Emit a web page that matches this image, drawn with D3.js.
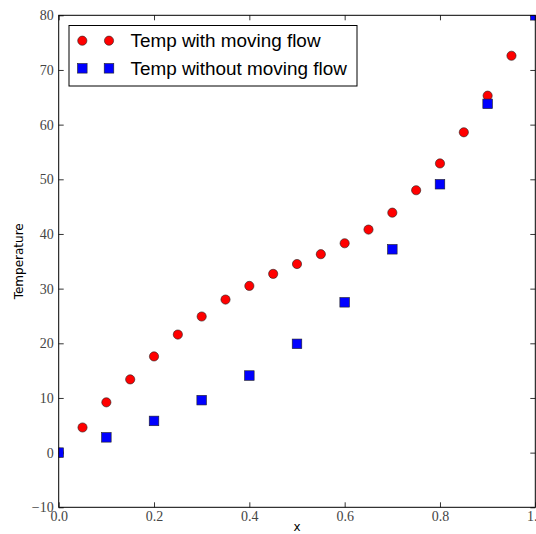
<!DOCTYPE html>
<html><head><meta charset="utf-8">
<script src="https://cdn.jsdelivr.net/npm/d3@7"></script>
<style>body{margin:0;background:#fff}</style>
</head><body>
<svg id="c" width="536" height="534"></svg>
<script>
const redX = [0, 0.05, 0.1, 0.15, 0.2, 0.25, 0.3, 0.35, 0.4, 0.45, 0.5, 0.55, 0.6, 0.65, 0.7, 0.75, 0.8, 0.85, 0.9, 0.95, 1.0];
const redY = [0, 4.6, 9.2, 13.4, 17.6, 21.6, 24.9, 28.0, 30.5, 32.7, 34.5, 36.3, 38.3, 40.8, 43.9, 48.0, 52.9, 58.6, 65.3, 72.6, 80.0];
const blueX = [0, 0.1, 0.2, 0.3, 0.4, 0.5, 0.6, 0.7, 0.8, 0.9, 1.0];
const blueY = [0, 2.8, 5.8, 9.6, 14.1, 19.9, 27.5, 37.2, 49.1, 63.8, 80.0];
const xTicks = [0, 0.2, 0.4, 0.6, 0.8, 1.0];
const xTickLabels = ["0.0", "0.2", "0.4", "0.6", "0.8", "1.0"];
const yTicks = [-10, 0, 10, 20, 30, 40, 50, 60, 70, 80];
const yTickLabels = ["\u221210", "0", "10", "20", "30", "40", "50", "60", "70", "80"];
const seriesNames = ["Temp with moving flow", "Temp without moving flow"];

const svg = d3.select("#c");
const L = 58.7, R = 535.3, T = 15.3, B = 507.3;
const x = d3.scaleLinear().domain([0, 1]).range([L, R]);
const y = d3.scaleLinear().domain([-10, 80]).range([B, T]);

svg.append("defs").append("clipPath").attr("id", "clip")
  .append("rect").attr("x", L).attr("y", T).attr("width", R - L).attr("height", B - T);

const serif = "'Liberation Serif', 'DejaVu Serif', serif";
const sans = "'DejaVu Sans', sans-serif";

const tickStyle = g => {
  g.select(".domain").remove();
  g.selectAll(".tick line").attr("stroke", "#000").attr("stroke-width", 0.8);
  g.selectAll(".tick text").attr("font-family", serif).attr("font-size", 14).attr("fill", "#444");
};
svg.append("g").attr("transform", `translate(0,${B})`)
  .call(d3.axisBottom(x).tickValues(xTicks).tickFormat((d, i) => xTickLabels[i]).tickSizeInner(-5).tickPadding(4))
  .call(tickStyle);
svg.append("g").attr("transform", `translate(0,${T})`)
  .call(d3.axisTop(x).tickValues(xTicks).tickFormat("").tickSizeInner(-5))
  .call(tickStyle);
svg.append("g").attr("transform", `translate(${L},0)`)
  .call(d3.axisLeft(y).tickValues(yTicks).tickFormat((d, i) => yTickLabels[i]).tickSizeInner(-5).tickPadding(5))
  .call(tickStyle);
svg.append("g").attr("transform", `translate(${R},0)`)
  .call(d3.axisRight(y).tickValues(yTicks).tickFormat("").tickSizeInner(-5))
  .call(tickStyle);

const plot = svg.append("g").attr("clip-path", "url(#clip)");
plot.selectAll("circle.red").data(redX).join("circle").attr("class", "red")
  .attr("cx", d => x(d)).attr("cy", (d, i) => y(redY[i])).attr("r", 4.6)
  .attr("fill", "#ff0000").attr("stroke", "#222").attr("stroke-width", 0.6);
const s = 9.6;
plot.selectAll("rect.blue").data(blueX).join("rect").attr("class", "blue")
  .attr("x", d => x(d) - s / 2).attr("y", (d, i) => y(blueY[i]) - s / 2).attr("width", s).attr("height", s)
  .attr("fill", "#0000ff").attr("stroke", "#222").attr("stroke-width", 0.6);

svg.append("rect").attr("x", L).attr("y", T).attr("width", R - L).attr("height", B - T)
  .attr("fill", "none").attr("stroke", "#000").attr("stroke-width", 1);

svg.append("text").attr("x", (L + R) / 2).attr("y", 531).attr("text-anchor", "middle")
  .attr("font-family", sans).attr("font-size", 12).text("x");
svg.append("text").attr("transform", `translate(23,${(T + B) / 2}) rotate(-90)`).attr("text-anchor", "middle")
  .attr("font-family", sans).attr("font-size", 12).text("Temperature");

const lg = svg.append("g");
lg.append("rect").attr("x", 69).attr("y", 25.5).attr("width", 288).attr("height", 60.5)
  .attr("fill", "#fff").attr("stroke", "#000").attr("stroke-width", 1);
const rows = [40.7, 68.3];
[0, 1].forEach(k => {
  [82.3, 109].forEach(mx => {
    if (k === 0) lg.append("circle").attr("cx", mx).attr("cy", rows[k]).attr("r", 4.6)
      .attr("fill", "#ff0000").attr("stroke", "#222").attr("stroke-width", 0.6);
    else lg.append("rect").attr("x", mx - s / 2).attr("y", rows[k] - s / 2).attr("width", s).attr("height", s)
      .attr("fill", "#0000ff").attr("stroke", "#222").attr("stroke-width", 0.6);
  });
  lg.append("text").attr("x", 130.5).attr("y", rows[k]).attr("dy", "0.35em")
    .attr("font-family", "'Liberation Sans', Arial, sans-serif").attr("font-size", 18.9).text(seriesNames[k]);
});
</script>
</body></html>
